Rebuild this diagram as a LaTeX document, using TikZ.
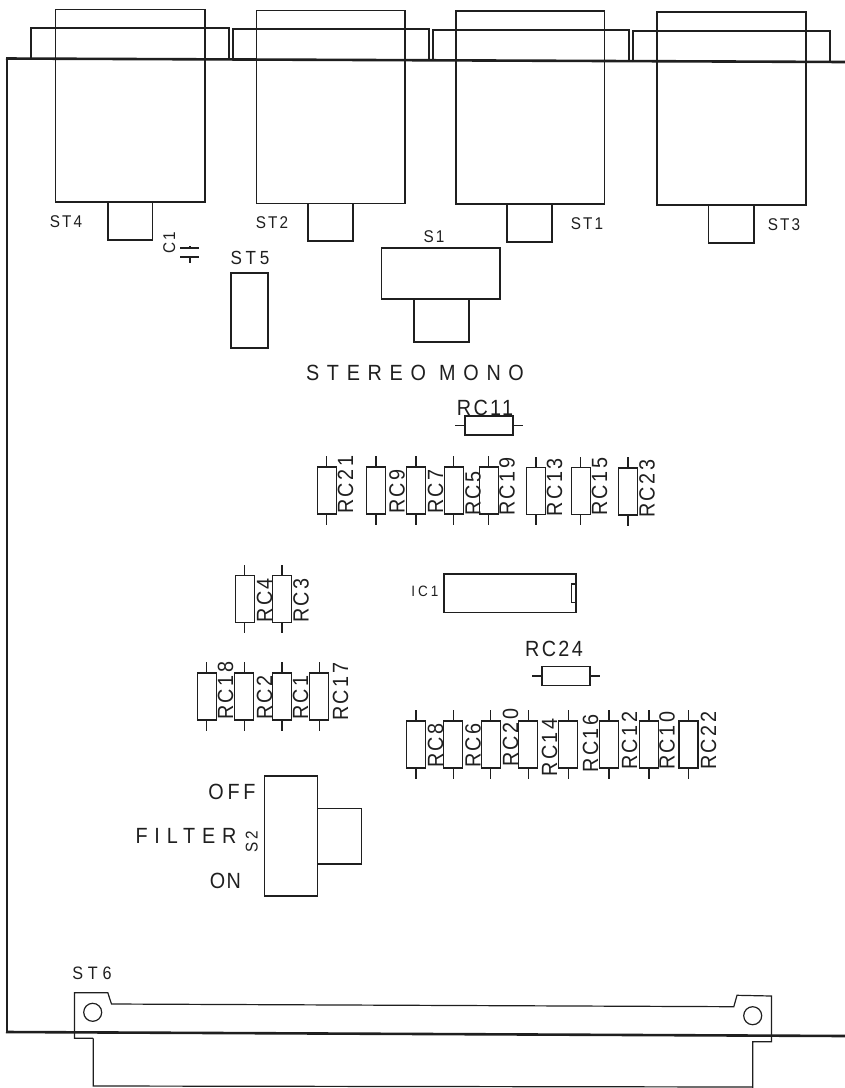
\documentclass[tikz,border=0pt]{standalone}
\usepackage{fontspec}
\usepackage{tikz}
\newfontfamily\plotfont[FakeStretch=0.9]{Liberation Sans}
\newcommand{\plotsize}[2]{\plotfont\fontsize{#1}{#1}\selectfont\addfontfeature{LetterSpace=#2}}
\definecolor{ink}{gray}{0.12}
\tikzset{
part/.style={draw=ink,line width=1.2pt},
edge/.style={draw=ink,line width=2.6pt},
plotlabel/.style={inner sep=0pt,text=ink,text depth=0pt},
biglabel/.style={plotlabel,text height=16pt,font=\plotsize{22}{11}},
smalllabel/.style={plotlabel,text height=12pt,font=\plotsize{17}{12}},
rcupright/.style={part,minimum width=19pt,minimum height=47pt,inner sep=0pt},
rcflat/.style={part,minimum width=48pt,minimum height=19pt,inner sep=0pt}
}
\begin{document}
\begin{tikzpicture}[x=1pt,y=-1pt]
\useasboundingbox (0,0) rectangle (845,1088);
\draw[part,line width=1.6pt] (7,1032) -- (7,58.5);
\draw[edge] (6,58.5) -- (845,62);
\draw[edge] (6,1032) -- (845,1036);
\foreach \l/\r/\t/\b/\fl/\fr/\ft/\fb/\tl/\tr/\tb in
{
55.5/205/9.5/202/31/229/28/59/108/152.5/240,
256.5/405/10.5/203.5/233/429/29/60/308/353/241,
456/604.5/11/204/433/629/30/60.5/507/552/242,
657/806/12/205/633/830/31/62/708.5/754/243}
{
\draw[part] (\fl,\fb) |- (\fr,\ft) -- (\fr,\fb);
\draw[part] (\l,\t) rectangle (\r,\b);
\draw[part] (\tl,\b) |- (\tr,\tb) -- (\tr,\b);
}
\foreach \name/\x/\y in {ST4/66/221,ST2/272/222,ST1/587/223,ST3/784/224.5,S1/434/236}
\node[smalllabel] (\name) at (\x,\y) {\name};
\node[smalllabel,rotate=90] (C1) at (169,243) {C1};
\draw[part] (180,248) -- (199,248) (180,257) -- (199,257);
\draw[part] (190,246) -- (190,248) (190,257) -- (190,263);
\node[smalllabel,font=\plotsize{19}{20},text height=13.5pt] (ST5) at (250,258) {ST5};
\draw[part] (231,273) rectangle (268,348);
\draw[part] (381.5,248) rectangle (500,299);
\draw[part] (414,299) |- (469,342) -- (469,299);
\node[biglabel,font=\plotsize{22}{35}] (stereomono) at (415,372) {STEREO MONO};
\foreach \name/\x/\y/\lx/\ly in
{
RC21/326.7/490.5/345/514,
RC9/376/490.5/396.7/514,
RC7/416/490.5/435/514,
RC5/453.7/490.5/472.7/516,
RC19/488.7/490.5/506.7/516,
RC13/536/491/554/516.5,
RC15/580.7/491/599/516,
RC23/628/491.5/646.7/518,
RC4/244.7/599/264/622.7,
RC3/282/599/300.7/623,
RC18/206.7/696.5/225/720,
RC2/244.3/696.5/264/720,
RC1/282/696.5/300/720,
RC17/319.3/696.5/340/721,
RC8/416/744.5/435/768,
RC6/453.3/744.5/472.7/768,
RC20/490.7/744.5/510/767,
RC14/528.3/744.5/549/776.7,
RC16/568.3/744.5/590/772.7,
RC12/609/744.5/629/770,
RC10/649/744.5/666.7/770,
RC22/688.5/744.5/708/770}
{
\node[rcupright] (\name-box) at (\x,\y) {};
\draw[part] (\name-box.north) -- ++(0,-10);
\draw[part] (\name-box.south) -- ++(0,10);
\node[biglabel,rotate=90,anchor=west] (\name) at (\lx,\ly) {\name};
}
\foreach \name/\x/\y/\lx/\ly in {RC11/489/425.5/485/407,RC24/566/676/554/648}
{
\node[rcflat] (\name-box) at (\x,\y) {};
\draw[part] (\name-box.west) -- ++(-9,0);
\draw[part] (\name-box.east) -- ++(9,0);
\node[biglabel] (\name) at (\lx,\ly) {\name};
}
\draw[part] (444,574) rectangle (576,612.3);
\draw[part] (576,584) -| (571.7,602.7) -- (576,602.7);
\node[smalllabel,font=\plotsize{15}{20},text height=11pt] (IC1) at (425,591) {IC1};
\draw[part] (264.5,776) rectangle (317.4,896);
\draw[part] (317.4,808.3) -| (361.5,864) -- (317.4,864);
\foreach \name/\x/\y/\spaced in {OFF/232/791/17,FILTER/186/835/31,ON/225.5/880/6}
\node[biglabel,font=\plotsize{22}{\spaced}] (\name) at (\x,\y) {\name};
\node[smalllabel,rotate=90] (S2) at (251.6,841.7) {S2};
\node[smalllabel,font=\plotsize{18}{26},text height=13pt] (ST6) at (92,973) {ST6};
\draw[part] (93.2,1038.3) -- (74.4,1038.3) -- (74.4,992.7) -- (107.8,992.7) -- (111.5,1004) -- (733.8,1006.7) -- (737,995.3) -- (771.5,996) -- (771.5,1041.7) -- (752.7,1041.7) -- (752.7,1088);
\draw[part] (93.2,1038.3) -- (93.2,1086) -- (752.7,1087);
\draw[part] (92.7,1012.3) circle[radius=9];
\draw[part] (752.7,1015.7) circle[radius=9];
\end{tikzpicture}
\end{document}
